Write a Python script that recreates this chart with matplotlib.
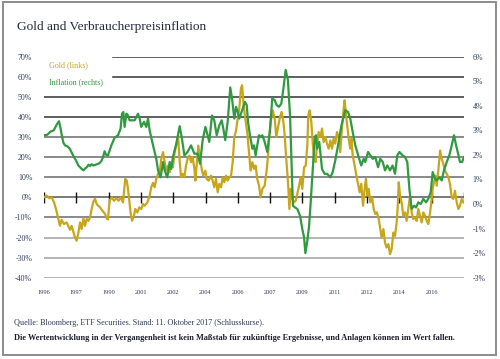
import matplotlib
matplotlib.use("Agg")
import matplotlib.pyplot as plt
from matplotlib.patches import Rectangle

# monthly positions counted from Jan 1996
gold_m = [0, 1.7, 3.3, 4.7, 6.2, 7.4, 8.9, 9.9, 10.9, 12.4, 14, 15.1, 16.1, 17.1, 18.2, 19.2, 20.2,
          21.3, 22.3, 23.3, 24.4, 25.4, 26.4, 27.5, 28.5, 29.5, 30.5, 31.6, 32.6, 33.6, 34.7, 35.7,
          36.7, 37.8, 38.8, 39.6, 40.6, 42.1, 43.3, 44.8, 46.2, 47.4, 48.9, 50.3, 51.2, 52, 52.8,
          53.6, 54.5, 55.7, 56.5, 57.8, 59, 60.2, 61.3, 62.3, 64, 65.4, 66.4, 67.5, 68.5, 69.5,
          70.6, 71.6, 72.6, 73.7, 74.7, 75.7, 76.8, 77.8, 78.8, 79.8, 80.9, 81.9, 83, 83.8, 84.8,
          85.8, 86.9, 87.9, 88.9, 90, 91, 92, 93.1, 93.7, 94.5, 95.5, 96.6, 97.8, 98.6, 99.9,
          100.7, 101.9, 103.4, 104.4, 105.4, 106.5, 107.5, 108.5, 109.6, 110.6, 111.6, 112.7,
          113.7, 114.7, 115.8, 116.8, 117.8, 118.9, 119.9, 120.9, 121.9, 122.6, 123.6, 124.6,
          125.9, 126.9, 127.9, 129, 130, 131, 132, 133.1, 134.1, 135.2, 136.6, 137.8, 138.7,
          139.5, 140.3, 141.6, 142.8, 143.8, 144.9, 146.1, 147.1, 148.2, 149, 149.8, 150.6,
          151.3, 151.9, 152.7, 153.7, 154.8, 155.8, 156.8, 157.9, 158.9, 159.9, 161, 162, 163,
          163.6, 164.5, 165.5, 166.3, 167.1, 168.1, 169, 170, 171.1, 172.1, 173.1, 174.2, 175.2,
          176.2, 177.3, 178.3, 179.3, 180.3, 181.4, 182.4, 183.4, 184.5, 185.5, 186.1, 187,
          187.8, 188.6, 189.6, 190.3, 191.1, 192.3, 193.4, 194.4, 195.4, 196.4, 197.5, 198.5,
          199.3, 200.2, 201, 202, 203.1, 204.1, 205.1, 206.1, 207.2, 208.2, 209, 210.1, 211.1,
          212.1, 213.2, 214.2, 215.2, 216.3, 217.3, 218.3, 218.9, 219.6, 220.4, 221.4, 222.4,
          223.5, 224.5, 225.5, 226.6, 227.6, 228.6, 229.7, 230.7, 231.7, 232.8, 233.8, 234.8,
          235.9, 236.9, 237.9, 239, 240, 240.6, 241.4, 242.3, 243.1, 244.1, 245.2, 246.2, 247.2,
          248.2, 249.3, 250.3, 251.3, 252.4, 253.4, 254.4, 255.5, 256.5, 257.5, 258.6, 259.6]
gold_v = [0, 0.85, -0.5, 0, -2.5, -5.8, -10.8, -14.2, -11.2, -13.3, -12.5, -14.5, -16.2, -14.2, -17.2, -20, -21.6,
          -17.5, -12.5, -15.8, -10.5, -14.2, -10.8, -11.7, -10, -5.8, -2.2, -0.8, -3.3, -4.2, -5, -6.2,
          -7.2, -8.3, -10.5, -11, -1.5, 0, -1.7, -0.5, -1.7, 0, -2.5, 9.2, 8.4, 4.2, -1.7,
          -7.5, -11.7, -9.2, -5.8, -7.5, -5, -5.8, -3.3, -4.2, -2.5, 0.85, 5, 7.2, 5, 9.2,
          11.7, 12.5, 19.2, 22.5, 17.5, 13.3, 15.8, 12.5, 16.7, 15, 22.5, 26, 30.5, 20, 10,
          11.7, 10, 15.8, 19.2, 20.8, 17.5, 20, 14.2, 8.3, 15.8, 25.8, 19.2, 13.3, 10.8, 13.3,
          9.2, 8.3, 10.8, 8.3, 5, 9.2, 2.5, 6.7, 5, 10, 7.5, 10.8,
          8.3, 10, 10.8, 17.5, 30, 33.3, 39.2, 44.2, 54.2, 55.8, 45.8, 39.2,
          31.7, 22.5, 13.3, 17.5, 14.2, 15.8, 9.2, 5.8, 0, 4.2, 5.8, 13.3, 20.8,
          30.8, 37.5, 43.3, 39.2, 30, 35, 40, 42.5, 37.5, 30.8, 20.8, 12.5,
          4.2, -5.8, 4.2, -0.8, -2.5, -1.7, 1.7, 5.8, 10, 4.2, 15, 15.8, 25.8,
          40.8, 43.3, 37.5, 27.5, 20.8, 17.5, 25.8, 32.5, 30, 34.2, 27.5, 30, 26.7,
          24.2, 28.3, 24.2, 29.2, 26.7, 32.5, 30, 22.5, 35, 44.2, 48.3, 40.8,
          35, 29.2, 24.2, 29.2, 20.8, 15.8, 10.8, 6.7, 2.5, 6.7, -4.2, 4.2,
          9.2, 0.8, 4.2, -2.5, 0, -5.8, -8.3, -7.5, -10.8, -15.8, -20, -15.8, -22.5,
          -25, -23.3, -28.3, -25.8, -17.5, -19.2, -12.5, -5.8, 7.5, 0.8, -2.5, -9.2,
          -7.5, -11.7, -5.8, 0.8, -7.5, -10.8, -10, -11.7, -5.8, -9.2, -12.5, -7.5,
          -9.2, -11.7, -13.3, -7.5, -0.8, 4.2, 7.5, 10.8, 5.8, 13.3, 23.3, 19.2, 16.7,
          13.3, 11.7, 10, 6.7, 0, -0.8, 3.3, -2.5, -5.8, -4.2, -0.8, -2.5]

infl_m = [0, 2, 4, 6, 8, 9.3, 10.2, 11, 12, 13, 14.5, 16, 18, 20, 21.3, 23, 24.4, 25.5, 26.5, 27.5,
          28.5, 29.5, 30.5, 32, 34, 35.5, 36.5, 37.5, 38.5, 39.6, 41.7, 43.7, 45.8, 47.4, 48.3,
          49.1, 49.9, 51, 52, 53, 54.5, 56.1, 58.2, 59.2, 60.2, 61.9, 63.3, 64.4, 65.4, 67.5,
          69.5, 70.6, 72.2, 73.7, 74.7, 76.3, 77.8, 78.8, 79.8, 81.9, 84, 85.4, 86.9, 88.9, 91,
          93.1, 95.1, 96.6, 98.2, 99.9, 101.3, 102.3, 104, 105.4, 106.9, 108.5, 110, 111.2,
          112.2, 113.7, 115.3, 116.4, 117.8, 118.9, 119.9, 120.9, 123, 124.4, 125.5, 126.3,
          127.5, 129, 130, 131, 132, 133.1, 134.1, 135.2, 136.6, 138.2, 139.9, 141.3, 142.8,
          144, 145.5, 146.9, 148.2, 149.6, 151, 152.3, 153.1, 154.1, 155.4, 156.8, 158.5,
          159.9, 161, 161.8, 163, 164.1, 165.1, 166.5, 167.6, 168.4, 169, 170.4, 172.1, 173.7,
          175.2, 177.3, 178.7, 180.3, 182.4, 184.1, 185.5, 186.5, 188.2, 189.6, 191.1, 192.7,
          194.8, 196.4, 197.9, 198.9, 200.6, 202, 203.5, 205.1, 206.8, 208.2, 209.7, 211.1,
          212.5, 214.2, 215.8, 217.3, 218.7, 220, 222, 223.5, 224.9, 226.2, 227.6, 229.1,
          230.3, 231.7, 233.2, 234.8, 236.5, 237.9, 239.4, 240.6, 242.1, 243.1, 244.7, 246.2,
          247.6, 249.3, 250.9, 252.4, 253.8, 255.1, 256.1, 257.5, 258.8, 260]
infl_v = [2.8, 2.82, 2.95, 3.0, 3.25, 3.37, 3.1, 2.8, 2.5, 2.39, 2.35, 2.25, 1.98, 1.75, 1.57, 1.45, 1.37, 1.45, 1.5, 1.6,
          1.55, 1.62, 1.57, 1.6, 1.65, 1.75, 1.9, 2.15, 2.0, 1.98, 2.39, 2.7, 2.8, 3.07, 3.68,
          3.75, 3.14, 3.68, 3.61, 3.41, 3.41, 3.41, 3.68, 3.48, 3.14, 3.35, 3.14, 3.48, 3.0, 2.39,
          1.84, 1.37, 1.09, 1.71, 1.37, 1.09, 1.71, 1.43, 1.91, 2.46, 3.17, 2.66, 1.98, 2.12, 2.39,
          2.05, 2.05, 1.64, 2.6, 3.14, 2.8, 2.53, 3.61, 3.41, 2.8, 3.2, 3.41, 3.0,
          2.6, 3.35, 4.75, 4.3, 3.48, 3.96, 3.75, 3.48, 3.89, 4.16, 4.03, 3.35,
          2.8, 2.25, 2.39, 1.98, 2.39, 2.8, 2.73, 2.8, 2.53, 2.12, 3.0, 4.3, 4.23,
          4.03, 3.96, 4.09, 4.7, 5.46, 5.05, 3.61, 1.98, -0.07, -0.14, -0.2, -0.48,
          -1.02, -1.36, -2.0, -1.5, -0.89, 0.07, 1.57, 2.73, 2.8, 2.25, 2.53, 1.43, 1.23,
          1.23, 1.09, 1.3, 1.77, 2.53, 3.2, 3.55, 3.82, 3.75, 3.48, 2.93, 2.39,
          1.91, 1.57, 1.84, 1.71, 2.12, 1.98, 1.84, 1.91, 1.5, 1.84, 1.71, 1.37,
          1.57, 1.37, 1.57, 1.23, 1.98, 2.12, 1.98, 1.91, 1.71, 0.61, -0.2, -0.07,
          -0.14, 0.07, 0.0, 0.21, 0.07, 0.21, 0.48, 1.3, 1.02, 0.96, 1.09, 0.96,
          1.37, 1.71, 1.98, 2.39, 2.8, 2.39, 2.12, 1.71, 1.71, 1.91]

tick_m = [0, 20, 40, 60, 80, 100, 120, 140, 160, 180, 200, 220, 240, 260]
tick_lbl = ['1996', '1997', '1999', '2001', '2002', '2004', '2006', '2007', '2009', '2011',
            '2012', '2014', '2016', '']
left_ticks = [70, 60, 50, 40, 30, 20, 10, 0, -10, -20, -30, -40]
right_ticks = [6, 5, 4, 3, 2, 1, 0, -1, -2, -3]

gold_col = '#c9a51a'
green_col = '#2f9a3f'
lbl_col = '#2e3b5a'
serif = 'Liberation Serif'

fig = plt.figure(figsize=(5.0, 3.59), dpi=100)
W, H = 500.0, 359.0
ax = fig.add_axes([44 / W, 1 - 277.7 / H, 420 / W, 221 / H])
ax.set_xlim(0, 260)
ax.set_ylim(-40, 70)
for s in ax.spines.values():
    s.set_visible(False)
ax.patch.set_visible(False)

# horizontal rules
for v in left_ticks:
    if v >= 40:
        c = '#333333'
    elif v >= -10:
        c = '#6a6a6a'
    else:
        c = '#a0a0a0'
    if v == 0:
        c = '#555555'
    xmin = (113 - 44) / 420.0 if v >= 60 else 0
    ax.axhline(v, xmin=xmin, xmax=1, color=c, lw=1.1, zorder=1)
ax.vlines(tick_m, -2.6, 2.6, color='#111111', lw=1.0, zorder=2)

ax.plot(gold_m, gold_v, color=gold_col, lw=1.6, zorder=3)

ax.set_yticks(left_ticks)
ax.set_yticklabels(['%d%%' % v for v in left_ticks], family=serif, fontsize=5.7, color=lbl_col)
ax.set_xticks(tick_m)
ax.set_xticklabels(tick_lbl, family=serif, fontsize=4.6, color=lbl_col)
ax.tick_params(axis='y', length=0, pad=8.5)
ax.tick_params(axis='x', length=0, pad=8.5)

ax2 = ax.twinx()
ax2.set_ylim(-3, 6)
for s in ax2.spines.values():
    s.set_visible(False)
ax2.plot(infl_m, infl_v, color=green_col, lw=1.6, zorder=4)
ax2.set_yticks(right_ticks)
ax2.set_yticklabels(['%d%%' % v for v in right_ticks], family=serif, fontsize=5.7, color=lbl_col)
ax2.tick_params(axis='y', length=0, pad=6)

fig.text(17 / W, 1 - 27 / H, 'Gold and Verbraucherpreisinflation', family=serif, fontsize=9.6,
         color='#262a40', va='center', ha='left')
fig.text(49 / W, 1 - 65 / H, 'Gold (links)', family=serif, fontsize=5.8, color=gold_col,
         va='center', ha='left')
fig.text(49 / W, 1 - 82 / H, 'Inflation (rechts)', family=serif, fontsize=5.8, color=green_col,
         va='center', ha='left')
fig.text(14 / W, 1 - 323 / H,
         'Quelle: Bloomberg, ETF Securities. Stand: 11. Oktober 2017 (Schlusskurse).',
         family=serif, fontsize=5.9, color=lbl_col, va='center', ha='left')
fig.text(14 / W, 1 - 338 / H,
         'Die Wertentwicklung in der Vergangenheit ist kein Maßstab für zukünftige Ergebnisse, '
         'und Anlagen können im Wert fallen.',
         family=serif, fontsize=5.95, weight='bold', color='#1c1c2a', va='center', ha='left')

fig.patches.append(Rectangle((2.5 / W, 1 - 355 / H), 493 / W, 353 / H, transform=fig.transFigure,
                             fill=False, ec='#8c8c8c', lw=1.4))

fig.savefig('out.png', dpi=100)
